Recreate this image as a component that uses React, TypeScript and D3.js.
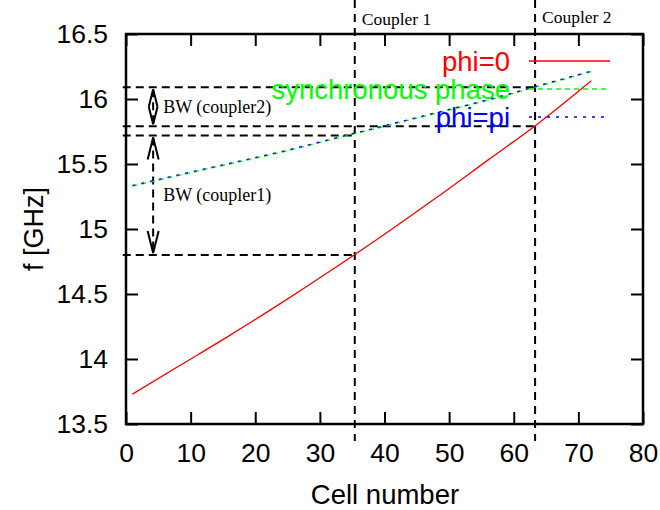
import React from "react";
import * as d3 from "d3";

const width = 660;
const height = 510;
const margin = { top: 34, right: 17, bottom: 86, left: 126 };

// cell number vs frequency [GHz]
const cells = [1, 8, 16, 24, 32, 40, 48, 56, 64, 72];
const phi0 = [13.73, 13.94, 14.18, 14.43, 14.69, 14.96, 15.24, 15.53, 15.82, 16.14];
const syncPhase = [15.33, 15.41, 15.5, 15.59, 15.69, 15.79, 15.89, 15.99, 16.1, 16.21];
const phiPi = [15.335, 15.415, 15.505, 15.595, 15.695, 15.795, 15.895, 15.995, 16.105, 16.215];

const couplerCells = [35.4, 63.3];
const couplerNames = ["Coupler 1", "Coupler 2"];
// band edges at each coupler: [low, high]
const bwLow = [14.8, 15.79];
const bwHigh = [15.72, 16.09];
const bwNames = ["BW (coupler1)", "BW (coupler2)"];
const bwArrowCell = 4.2;

const xTicks = [0, 10, 20, 30, 40, 50, 60, 70, 80];
const yTicks = [13.5, 14, 14.5, 15, 15.5, 16, 16.5];

const sans = "'Liberation Sans', Arial, Helvetica, sans-serif";
const serif = "'Liberation Serif', 'Times New Roman', serif";

const x = d3.scaleLinear().domain([0, 80]).range([margin.left, width - margin.right]);
const y = d3.scaleLinear().domain([13.5, 16.5]).range([height - margin.bottom, margin.top]);

const line = d3.line<number>()
  .x((d, i) => x(cells[i]))
  .curve(d3.curveMonotoneX);

const series = [
  { name: "phi=0", values: phi0, color: "#ff0000", dash: "none" },
  { name: "synchronous phase", values: syncPhase, color: "#00ff00", dash: "5,4" },
  { name: "phi=pi", values: phiPi, color: "#0000ff", dash: "3,6" },
];

export default function App() {
  const xAxisRef = React.useRef<SVGGElement>(null);
  const yAxisRef = React.useRef<SVGGElement>(null);
  const topRef = React.useRef<SVGGElement>(null);
  const rightRef = React.useRef<SVGGElement>(null);

  React.useEffect(() => {
    const style = (g: any) => {
      g.select(".domain").remove();
      g.selectAll(".tick line").attr("stroke", "#000").attr("stroke-width", 2);
      g.selectAll(".tick text").attr("font-family", sans).attr("font-size", 26.5).attr("fill", "#000");
    };
    d3.select(xAxisRef.current).call(d3.axisBottom(x).tickValues(xTicks).tickSize(-12).tickPadding(19)).call(style);
    d3.select(yAxisRef.current).call(d3.axisLeft(y).tickValues(yTicks).tickSize(-12).tickPadding(18).tickFormat(d3.format("~g"))).call(style);
    d3.select(topRef.current).call(d3.axisTop(x).tickValues(xTicks).tickSize(-12).tickFormat(() => "")).call(style);
    d3.select(rightRef.current).call(d3.axisRight(y).tickValues(yTicks).tickSize(-12).tickFormat(() => "")).call(style);
  }, []);

  const x0 = x(0), x1 = x(80), yB = y(13.5), yT = y(16.5);

  return (
    <svg width={width} height={height} style={{ position: "absolute", left: 0, top: 0, background: "#fff" }}>
      {/* guide lines */}
      {couplerCells.map((c, i) => (
        <g key={"c" + i}>
          <line x1={x(c)} x2={x(c)} y1={0} y2={yB + 17} stroke="#000" strokeWidth={2} strokeDasharray="8,6" />
          <text x={x(c) + 7} y={i === 0 ? 25 : 23} fontFamily={serif} fontSize={17.5}>{couplerNames[i]}</text>
          <line x1={x(-0.5)} x2={x(c)} y1={y(bwLow[i])} y2={y(bwLow[i])} stroke="#000" strokeWidth={2} strokeDasharray="8,5" />
          <line x1={x(-0.5)} x2={x(c)} y1={y(bwHigh[i])} y2={y(bwHigh[i])} stroke="#000" strokeWidth={2} strokeDasharray="8,5" />
        </g>
      ))}

      {/* bandwidth arrows */}
      {bwNames.map((n, i) => {
        const ax = x(bwArrowCell);
        const ya = y(bwHigh[i]) + 2;
        const yb = y(bwLow[i]) - 2;
        const hl = Math.min(22, (yb - ya) / 2);
        const hw = 5.5 * hl / 22;
        return (
          <g key={"bw" + i} stroke="#000" strokeWidth={2} fill="none">
            <line x1={ax} x2={ax} y1={ya} y2={yb} strokeDasharray="8,5" />
            <path d={`M${ax - hw},${ya + hl}L${ax},${ya}L${ax + hw},${ya + hl}`} />
            <path d={`M${ax - hw},${yb - hl}L${ax},${yb}L${ax + hw},${yb - hl}`} />
            <text x={ax + 10} y={(ya + yb) / 2 + 6} fontFamily={serif} fontSize={18} fill="#000" stroke="none">{n}</text>
          </g>
        );
      })}

      {/* curves */}
      {series.map((s) => (
        <path key={s.name} d={line.y((d) => y(d))(s.values) || ""} fill="none" stroke={s.color} strokeWidth={1.3} strokeDasharray={s.dash} />
      ))}

      {/* legend */}
      {series.map((s, i) => {
        const ly = 61 + i * 28;
        return (
          <g key={"l" + i}>
            <text x={510} y={ly + 10} textAnchor="end" fontFamily={sans} fontSize={27.5} fill={s.color}>{s.name}</text>
            <line x1={529} x2={i === 2 ? 604 : 610} y1={ly} y2={ly} stroke={s.color} strokeWidth={1.3} strokeDasharray={s.dash} />
          </g>
        );
      })}

      {/* frame and axes */}
      <rect x={x0} y={yT} width={x1 - x0} height={yB - yT} fill="none" stroke="#000" strokeWidth={2.5} />
      <g ref={xAxisRef} transform={`translate(0, ${yB})`} />
      <g ref={yAxisRef} transform={`translate(${x0}, 0)`} />
      <g ref={topRef} transform={`translate(0, ${yT})`} />
      <g ref={rightRef} transform={`translate(${x1}, 0)`} />

      <text x={385} y={504} textAnchor="middle" fontFamily={sans} fontSize={27.5}>Cell number</text>
      <text transform={`translate(43, ${(yT + yB) / 2}) rotate(-90)`} textAnchor="middle" fontFamily={sans} fontSize={27}>f [GHz]</text>
    </svg>
  );
}
